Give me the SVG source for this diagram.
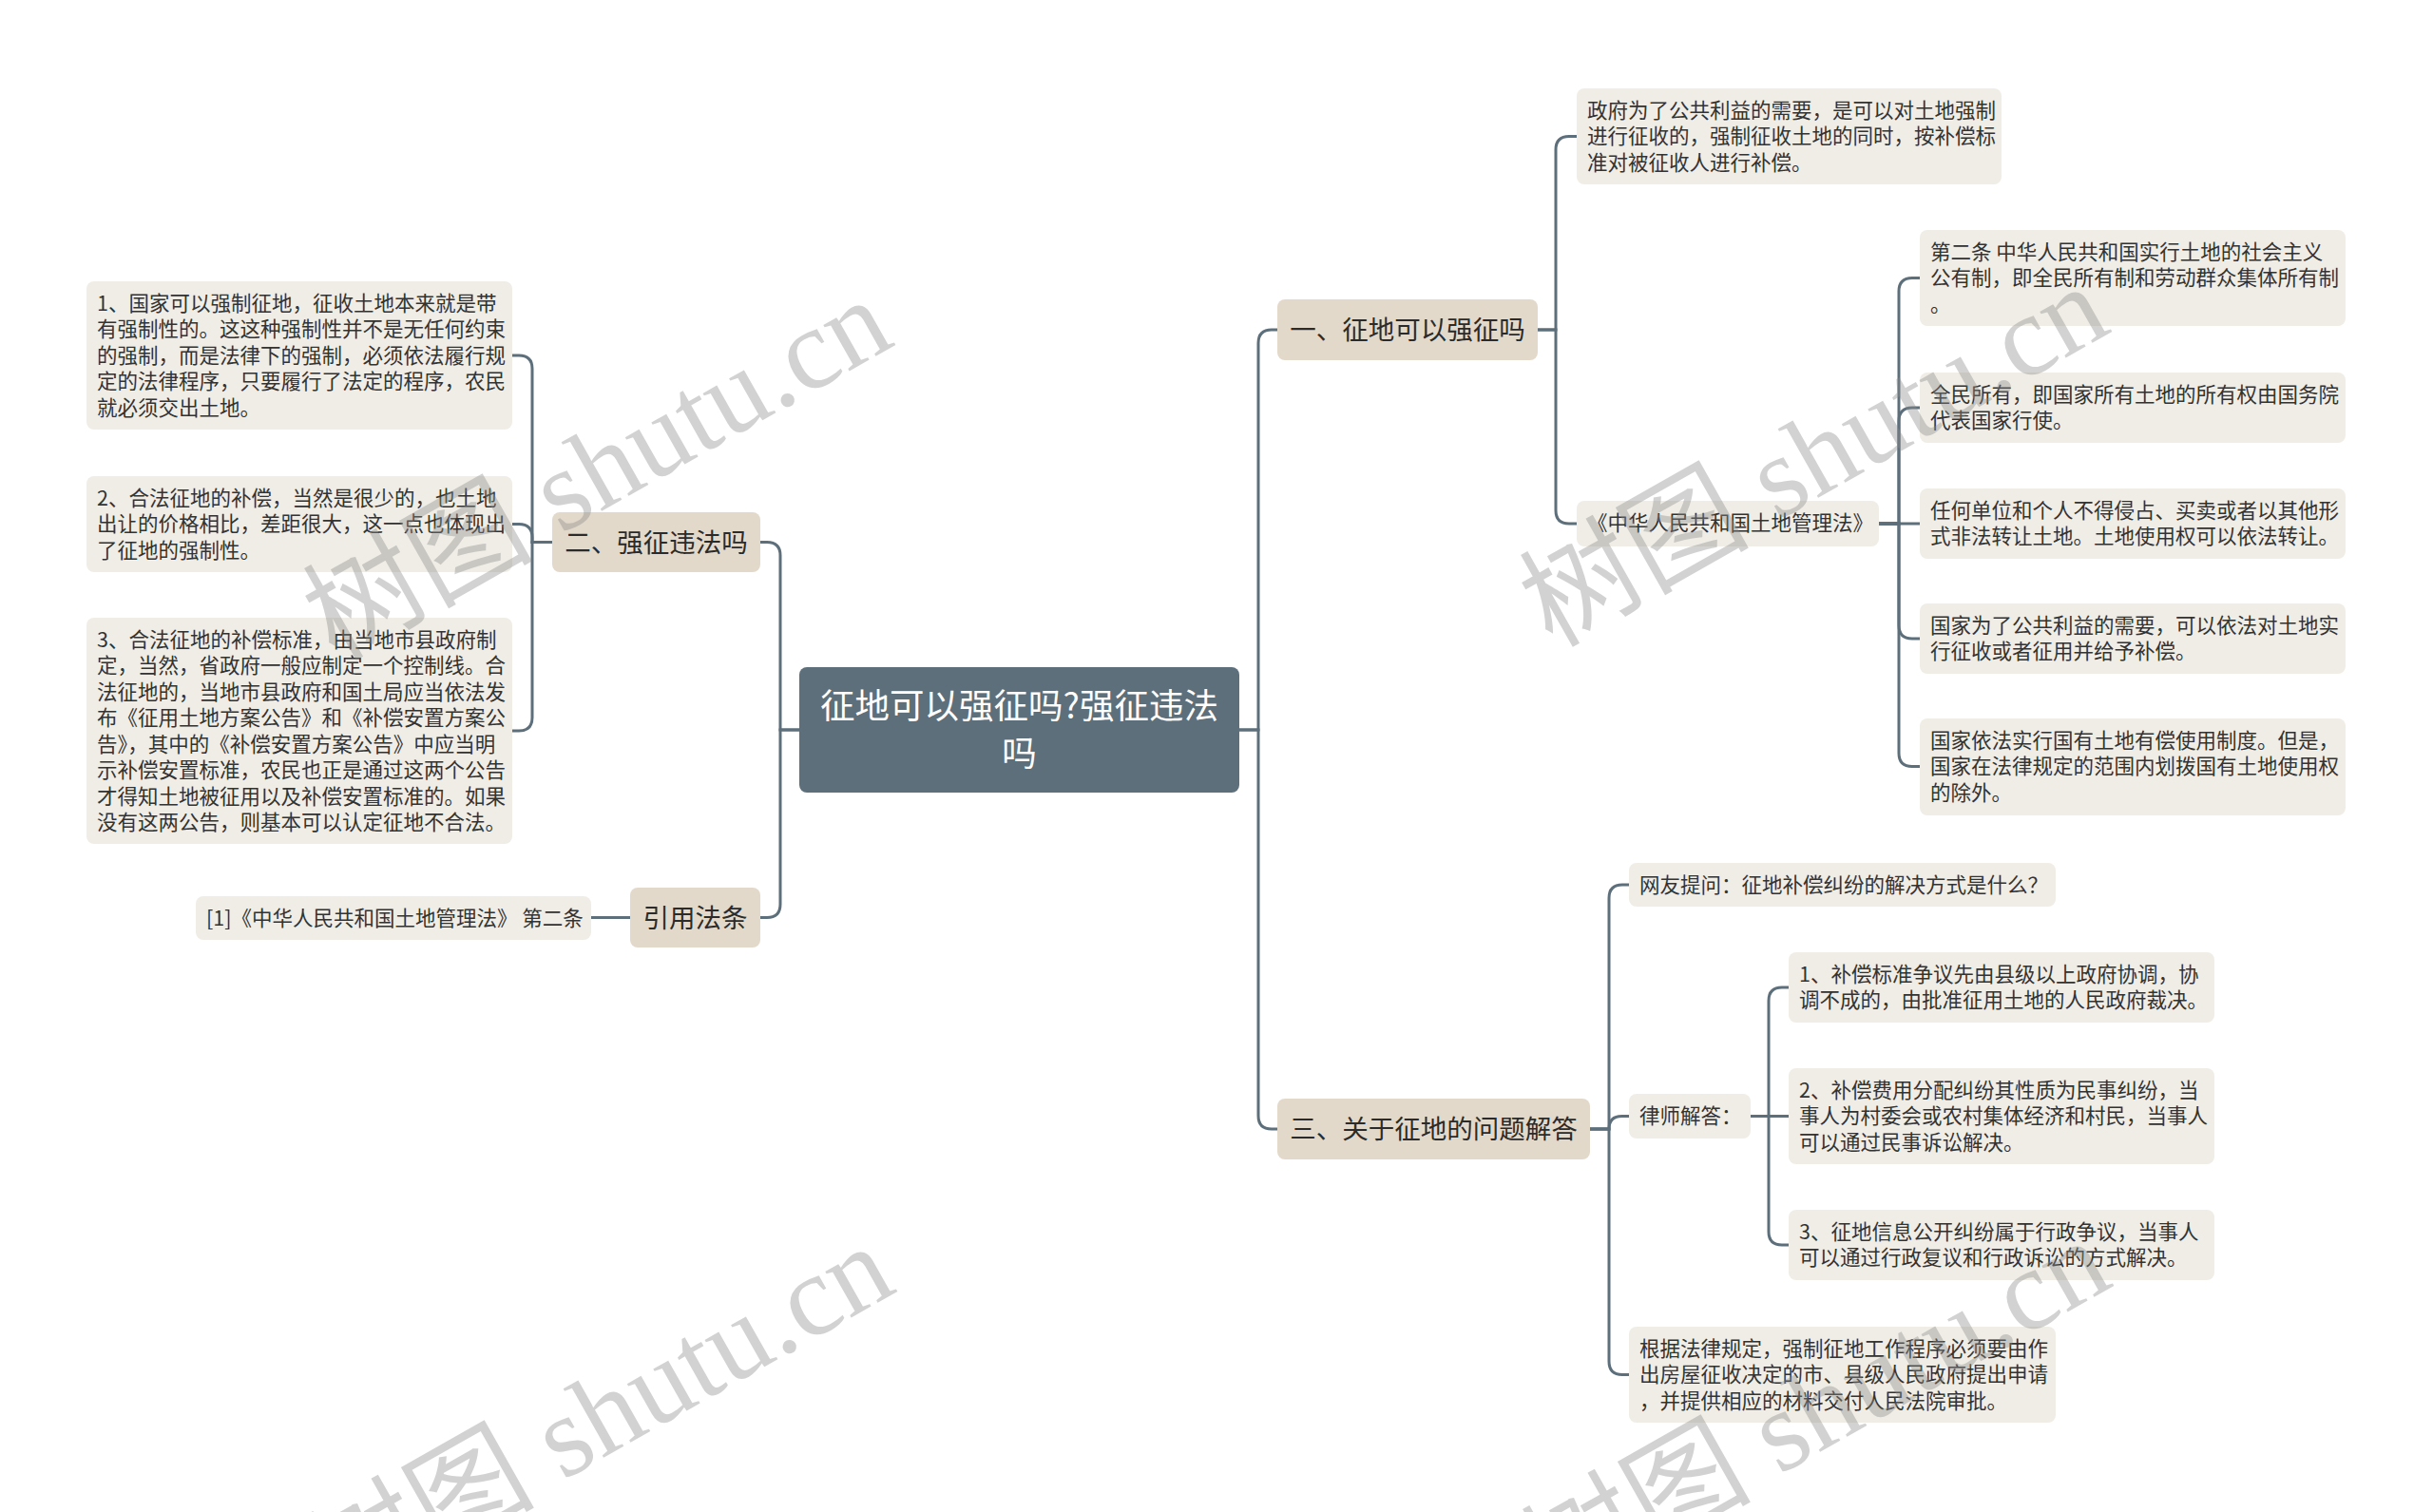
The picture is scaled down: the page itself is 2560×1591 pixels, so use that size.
<svg xmlns="http://www.w3.org/2000/svg" width="2560" height="1591" viewBox="0 0 2560 1591">
<style>
.bg{fill:#ffffff}
.root{fill:#5d6f7b}
.l1{fill:#e3d9ca}
.leaf{fill:#f0ede6}
.t{font-family:"Noto Sans CJK SC","Noto Sans",sans-serif;font-size:21.5px;fill:#333333}
.t1{font-family:"Noto Sans CJK SC","Noto Sans",sans-serif;font-size:27.5px;fill:#2b2b2b;text-anchor:middle}
.tr{font-family:"Noto Sans CJK SC","Noto Sans",sans-serif;font-size:36.5px;fill:#ffffff;text-anchor:middle}
.conn path{fill:none;stroke:#5d6f7b;stroke-width:3}
.wm{font-family:"Liberation Serif","Noto Sans CJK SC",serif;font-size:121px;fill:#8a8a8a;opacity:0.38;text-anchor:end}
</style>
<rect class="bg" x="0" y="0" width="2560" height="1591"/>
<g id="connectors" class="conn">
<path d="M1304 768 H1324 V361 Q1324 347 1338 347 H1344"/>
<path d="M1304 768 H1324 V1174 Q1324 1188 1338 1188 H1344"/>
<path d="M841 768 H821 V584.5 Q821 570.5 807 570.5 H800"/>
<path d="M841 768 H821 V951.5 Q821 965.5 807 965.5 H800"/>
<path d="M1618 347 H1637 V157.5 Q1637 143.5 1651 143.5 H1659"/>
<path d="M1618 347 H1637 V537 Q1637 551 1651 551 H1659"/>
<path d="M1977 551 H1998 V306.5 Q1998 292.5 2012 292.5 H2020"/>
<path d="M1977 551 H1998 V443 Q1998 429 2012 429 H2020"/>
<path d="M1977 551 H2020"/>
<path d="M1977 551 H1998 V658 Q1998 672 2012 672 H2020"/>
<path d="M1977 551 H1998 V792.5 Q1998 806.5 2012 806.5 H2020"/>
<path d="M1673 1188 H1693 V945 Q1693 931 1707 931 H1714"/>
<path d="M1673 1188 H1693 Q1693 1174.5 1706.5 1174.5 H1714"/>
<path d="M1673 1188 H1693 V1432.5 Q1693 1446.5 1707 1446.5 H1714"/>
<path d="M1842 1174.5 H1861 V1053 Q1861 1039 1875 1039 H1882"/>
<path d="M1842 1174.5 H1882"/>
<path d="M1842 1174.5 H1861 V1296 Q1861 1310 1875 1310 H1882"/>
<path d="M581 570.5 H560 V388 Q560 374 546 374 H539"/>
<path d="M581 570.5 H560 V565.5 Q560 551.5 546 551.5 H539"/>
<path d="M581 570.5 H560 V755 Q560 769 546 769 H539"/>
<path d="M663 965.5 H622"/>
</g>
<g id="root">
<rect class="root" x="841" y="702" width="463" height="132" rx="8"/>
<text class="tr"><tspan x="1072.5" y="756">征地可以强征吗?强征违法</tspan><tspan x="1072.5" y="806">吗</tspan></text>
</g>
<g id="n1">
<rect class="l1" x="1344" y="315" width="274" height="64" rx="8"/>
<text class="t1" x="1481" y="357">一、征地可以强征吗</text>
</g>
<g id="n2">
<rect class="l1" x="581" y="539" width="219" height="63" rx="8"/>
<text class="t1" x="690.5" y="580.5">二、强征违法吗</text>
</g>
<g id="n3">
<rect class="l1" x="663" y="934" width="137" height="63" rx="8"/>
<text class="t1" x="731.5" y="975.5">引用法条</text>
</g>
<g id="n4">
<rect class="l1" x="1344" y="1156" width="329" height="64" rx="8"/>
<text class="t1" x="1508.5" y="1198">三、关于征地的问题解答</text>
</g>
<g id="l1">
<rect class="leaf" x="91" y="296" width="448" height="156" rx="8"/>
<text class="t"><tspan x="102" y="326.5">1、国家可以强制征地，征收土地本来就是带</tspan><tspan x="102" y="354">有强制性的。这这种强制性并不是无任何约束</tspan><tspan x="102" y="381.5">的强制，而是法律下的强制，必须依法履行规</tspan><tspan x="102" y="409">定的法律程序，只要履行了法定的程序，农民</tspan><tspan x="102" y="436.5">就必须交出土地。</tspan></text>
</g>
<g id="l2">
<rect class="leaf" x="91" y="501" width="448" height="101" rx="8"/>
<text class="t"><tspan x="102" y="531.5">2、合法征地的补偿，当然是很少的，也土地</tspan><tspan x="102" y="559">出让的价格相比，差距很大，这一点也体现出</tspan><tspan x="102" y="586.5">了征地的强制性。</tspan></text>
</g>
<g id="l3">
<rect class="leaf" x="91" y="650" width="448" height="238" rx="8"/>
<text class="t"><tspan x="102" y="680.5">3、合法征地的补偿标准，由当地市县政府制</tspan><tspan x="102" y="708">定，当然，省政府一般应制定一个控制线。合</tspan><tspan x="102" y="735.5">法征地的，当地市县政府和国土局应当依法发</tspan><tspan x="102" y="763">布《征用土地方案公告》和《补偿安置方案公</tspan><tspan x="102" y="790.5">告》，其中的《补偿安置方案公告》中应当明</tspan><tspan x="102" y="818">示补偿安置标准，农民也正是通过这两个公告</tspan><tspan x="102" y="845.5">才得知土地被征用以及补偿安置标准的。如果</tspan><tspan x="102" y="873">没有这两公告，则基本可以认定征地不合法。</tspan></text>
</g>
<g id="cite">
<rect class="leaf" x="206" y="943" width="416" height="46" rx="8"/>
<text class="t" x="217" y="973.5">[1]《中华人民共和国土地管理法》 第二条</text>
</g>
<g id="r1">
<rect class="leaf" x="1659" y="93" width="447" height="101" rx="8"/>
<text class="t"><tspan x="1670" y="123.5">政府为了公共利益的需要，是可以对土地强制</tspan><tspan x="1670" y="151">进行征收的，强制征收土地的同时，按补偿标</tspan><tspan x="1670" y="178.5">准对被征收人进行补偿。</tspan></text>
</g>
<g id="law">
<rect class="leaf" x="1659" y="527" width="318" height="48" rx="8"/>
<text class="t" x="1670" y="558">《中华人民共和国土地管理法》</text>
</g>
<g id="s1">
<rect class="leaf" x="2020" y="242" width="448" height="101" rx="8"/>
<text class="t"><tspan x="2031" y="272.5">第二条 中华人民共和国实行土地的社会主义</tspan><tspan x="2031" y="300">公有制，即全民所有制和劳动群众集体所有制</tspan><tspan x="2031" y="327.5">。</tspan></text>
</g>
<g id="s2">
<rect class="leaf" x="2020" y="392" width="448" height="74" rx="8"/>
<text class="t"><tspan x="2031" y="422.5">全民所有，即国家所有土地的所有权由国务院</tspan><tspan x="2031" y="450">代表国家行使。</tspan></text>
</g>
<g id="s3">
<rect class="leaf" x="2020" y="514" width="448" height="74" rx="8"/>
<text class="t"><tspan x="2031" y="544.5">任何单位和个人不得侵占、买卖或者以其他形</tspan><tspan x="2031" y="572">式非法转让土地。土地使用权可以依法转让。</tspan></text>
</g>
<g id="s4">
<rect class="leaf" x="2020" y="635" width="448" height="74" rx="8"/>
<text class="t"><tspan x="2031" y="665.5">国家为了公共利益的需要，可以依法对土地实</tspan><tspan x="2031" y="693">行征收或者征用并给予补偿。</tspan></text>
</g>
<g id="s5">
<rect class="leaf" x="2020" y="756" width="448" height="102" rx="8"/>
<text class="t"><tspan x="2031" y="786.5">国家依法实行国有土地有偿使用制度。但是，</tspan><tspan x="2031" y="814">国家在法律规定的范围内划拨国有土地使用权</tspan><tspan x="2031" y="841.5">的除外。</tspan></text>
</g>
<g id="q1">
<rect class="leaf" x="1714" y="908" width="449" height="46" rx="8"/>
<text class="t" x="1725" y="938.5">网友提问：征地补偿纠纷的解决方式是什么？</text>
</g>
<g id="lawyer">
<rect class="leaf" x="1714" y="1151" width="128" height="47" rx="8"/>
<text class="t" x="1725" y="1182">律师解答：</text>
</g>
<g id="a1">
<rect class="leaf" x="1882" y="1002" width="448" height="74" rx="8"/>
<text class="t"><tspan x="1893" y="1032.5">1、补偿标准争议先由县级以上政府协调，协</tspan><tspan x="1893" y="1060">调不成的，由批准征用土地的人民政府裁决。</tspan></text>
</g>
<g id="a2">
<rect class="leaf" x="1882" y="1124" width="448" height="101" rx="8"/>
<text class="t"><tspan x="1893" y="1154.5">2、补偿费用分配纠纷其性质为民事纠纷，当</tspan><tspan x="1893" y="1182">事人为村委会或农村集体经济和村民，当事人</tspan><tspan x="1893" y="1209.5">可以通过民事诉讼解决。</tspan></text>
</g>
<g id="a3">
<rect class="leaf" x="1882" y="1273" width="448" height="74" rx="8"/>
<text class="t"><tspan x="1893" y="1303.5">3、征地信息公开纠纷属于行政争议，当事人</tspan><tspan x="1893" y="1331">可以通过行政复议和行政诉讼的方式解决。</tspan></text>
</g>
<g id="q3">
<rect class="leaf" x="1714" y="1396" width="449" height="101" rx="8"/>
<text class="t"><tspan x="1725" y="1426.5">根据法律规定，强制征地工作程序必须要由作</tspan><tspan x="1725" y="1454">出房屋征收决定的市、县级人民政府提出申请</tspan><tspan x="1725" y="1481.5">，并提供相应的材料交付人民法院审批。</tspan></text>
</g>
<g id="watermarks">
<text class="wm" x="944" y="362" transform="rotate(-29.5 944 362)">树图 shutu.cn</text>
<text class="wm" x="2224" y="348" transform="rotate(-29.5 2224 348)">树图 shutu.cn</text>
<text class="wm" x="946" y="1358" transform="rotate(-29.5 946 1358)">树图 shutu.cn</text>
<text class="wm" x="2226" y="1352" transform="rotate(-29.5 2226 1352)">树图 shutu.cn</text>
</g>
</svg>
